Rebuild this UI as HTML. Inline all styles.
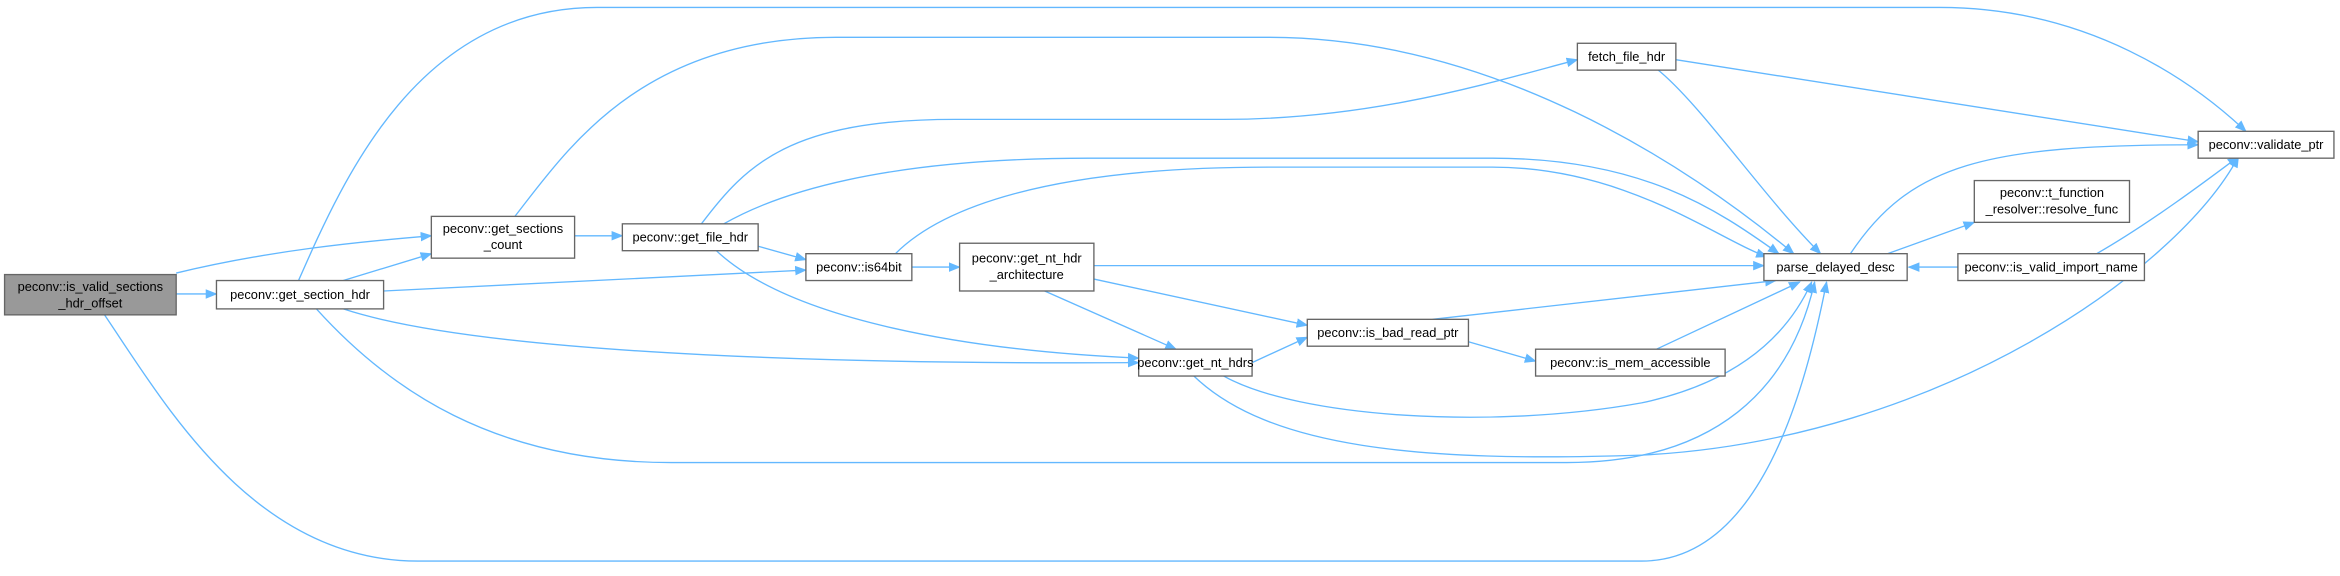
<!DOCTYPE html>
<html><head><meta charset="utf-8"><style>
html,body{margin:0;padding:0;background:#fff;}
svg{display:block}
text{font-family:"Liberation Sans",Arial,sans-serif;font-size:8.6px;fill:#000;text-anchor:middle}
.n{fill:#fff;stroke:#666;stroke-width:0.9}
.e{fill:none;stroke:#63b8ff;stroke-width:0.9}
</style></head><body>
<svg width="2340" height="576" viewBox="0 0 1568 386" xmlns="http://www.w3.org/2000/svg">
<defs><marker id="a" viewBox="0 0 10 10" refX="9" refY="5" markerWidth="8" markerHeight="8" markerUnits="userSpaceOnUse" orient="auto"><path d="M0,1 L10,5 L0,9 z" fill="#63b8ff"/></marker></defs>
<g class="e" marker-end="url(#a)">
<path d="M118,197 L145,197"/>
<path d="M118,183 C180,168 240,162 289,158"/>
<path d="M70,211 C110,270 170,376 280,376 L1100,376 C1180,376 1210,260 1224,189"/>
<path d="M200,188 C230,120 280,5 400,5 L1300,5 C1400,5 1470,55 1505,88"/>
<path d="M230,188 L289,170"/>
<path d="M257,195 L540,181"/>
<path d="M230,207 C330,240 600,244 763,243"/>
<path d="M212,207 C260,260 330,310 450,310 L1050,310 C1150,310 1200,260 1216,189"/>
<path d="M385,158 L417,158"/>
<path d="M345,145 C380,100 430,25 560,25 L850,25 C1000,25 1130,110 1202,170"/>
<path d="M470,150 C500,110 530,80 640,80 L820,80 C920,80 1000,55 1057,40"/>
<path d="M485,150 C520,130 590,106 730,106 L1000,106 C1100,106 1150,140 1192,170"/>
<path d="M508,165 L540,174"/>
<path d="M480,168 C530,215 650,235 763,240"/>
<path d="M600,170 C630,140 700,112 850,112 L1000,112 C1090,112 1150,160 1184,172"/>
<path d="M611,179 L643,179"/>
<path d="M733,178 L1182,178"/>
<path d="M700,195 L788,234"/>
<path d="M733,187 L876,218"/>
<path d="M839,243 L876,226"/>
<path d="M820,252 C870,280 1000,288 1100,270 C1170,255 1200,220 1214,189"/>
<path d="M800,252 C850,300 950,310 1100,305 C1300,295 1460,180 1500,105"/>
<path d="M960,214 L1190,188"/>
<path d="M984,229 L1029,242"/>
<path d="M1110,234 L1206,189"/>
<path d="M1123,40 L1473,95"/>
<path d="M1110,46 C1140,70 1180,130 1220,170"/>
<path d="M1240,170 C1280,110 1330,97 1473,97"/>
<path d="M1265,170 L1323,149"/>
<path d="M1312,179 L1279,179"/>
<path d="M1405,170 C1440,150 1480,120 1500,105"/>
</g>
<rect x="3" y="184" width="115" height="27" fill="#999" stroke="#666" stroke-width="0.9"/>
<text x="60.5" y="195">peconv::is_valid_sections</text><text x="60.5" y="206">_hdr_offset</text>
<rect class="n" x="145" y="188" width="112" height="19"/><text x="201" y="200.5">peconv::get_section_hdr</text>
<rect class="n" x="289" y="145" width="96" height="28"/><text x="337" y="156">peconv::get_sections</text><text x="337" y="167">_count</text>
<rect class="n" x="417" y="150" width="91" height="18"/><text x="462.5" y="162">peconv::get_file_hdr</text>
<rect class="n" x="540" y="170" width="71" height="18"/><text x="575.5" y="182">peconv::is64bit</text>
<rect class="n" x="643" y="163" width="90" height="32"/><text x="688" y="176">peconv::get_nt_hdr</text><text x="688" y="187">_architecture</text>
<rect class="n" x="763" y="234" width="76" height="18"/><text x="801" y="246">peconv::get_nt_hdrs</text>
<rect class="n" x="876" y="214" width="108" height="18"/><text x="930" y="226">peconv::is_bad_read_ptr</text>
<rect class="n" x="1029" y="234" width="127" height="18"/><text x="1092.5" y="246">peconv::is_mem_accessible</text>
<rect class="n" x="1182" y="170" width="96" height="18"/><text x="1230" y="182">parse_delayed_desc</text>
<rect class="n" x="1057" y="29" width="66" height="18"/><text x="1090" y="41">fetch_file_hdr</text>
<rect class="n" x="1473" y="88" width="91" height="18"/><text x="1518.5" y="100">peconv::validate_ptr</text>
<rect class="n" x="1323" y="121" width="104" height="28"/><text x="1375" y="132">peconv::t_function</text><text x="1375" y="143">_resolver::resolve_func</text>
<rect class="n" x="1312" y="170" width="125" height="18"/><text x="1374.5" y="182">peconv::is_valid_import_name</text>
</svg>
</body></html>
